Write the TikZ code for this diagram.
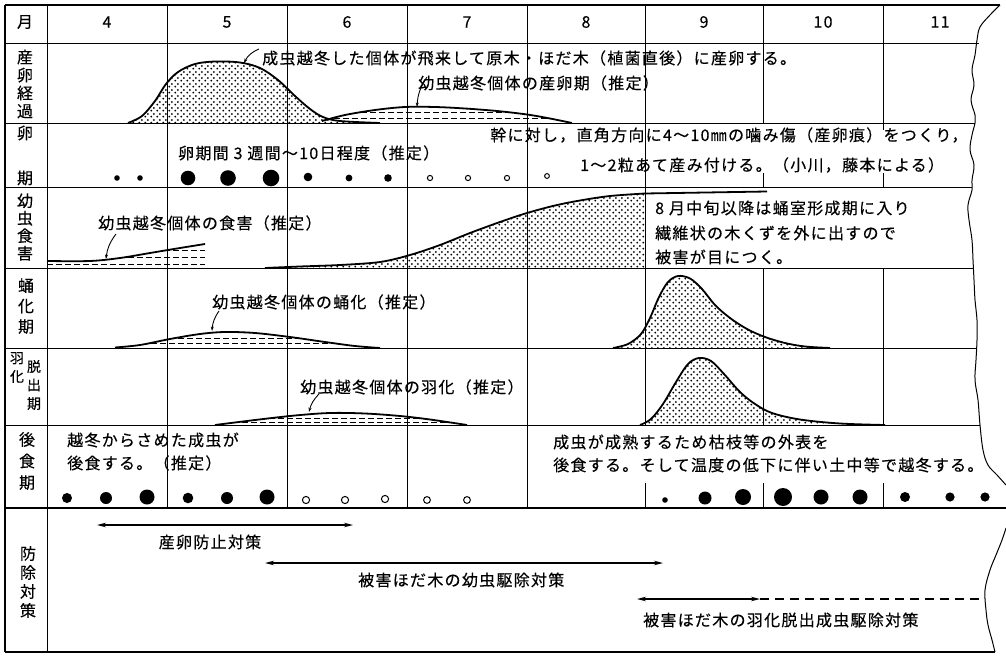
\documentclass[tikz,border=0pt]{standalone}
\usepackage{fontspec}
\setmainfont{Noto Sans CJK JP}[LetterSpace=8, FakeBold=0.3]
\usetikzlibrary{patterns.meta,arrows.meta}
\tikzdeclarepattern{
  name=stipple,
  type=uncolored,
  bounding box={(0pt,0pt) and (6pt,6pt)},
  tile size={(6pt,6pt)},
  code={
    \pgfpathcircle{\pgfpoint{1.5pt}{1.5pt}}{1.15pt}
    \pgfpathcircle{\pgfpoint{4.5pt}{4.5pt}}{1.15pt}
    \pgfusepath{fill}
  }
}
\tikzset{
  gline/.style={line width=0.9pt},
  fline/.style={line width=2.4pt},
  hump/.style={line width=1.8pt},
  edgeline/.style={line width=1pt},
  dashfill/.style={line width=0.8pt, dash pattern=on 6pt off 3pt},
  txt/.style={anchor=west, inner sep=0pt, font=\fontsize{16}{19}\selectfont},
  ctxt/.style={inner sep=0pt, font=\fontsize{16}{19}\selectfont},
  lab/.style={inner sep=0pt, align=center, font=\fontsize{16}{18}\selectfont},
  slab/.style={inner sep=0pt, align=center, font=\fontsize{14}{18.5}\selectfont},
  leader/.style={line width=0.9pt, -{Stealth[length=4.5pt,width=3pt]}},
  twohead/.style={line width=1.3pt, {Stealth[length=9pt,width=4.5pt]}-{Stealth[length=9pt,width=4.5pt]}},
  filldot/.style={fill=black},
  opendot/.style={draw=black, line width=1pt, fill=white},
}
\begin{document}
\begin{tikzpicture}[x=1pt,y=-1pt]
\fill[white] (0,0) rectangle (1006,658);
\useasboundingbox (0,0) rectangle (1006,658);

% ---------- stippled areas ----------
\fill[pattern=stipple] plot[smooth,tension=0.55] coordinates {(128,123) (142,116) (155,101) (166,84) (178,72) (195,64) (215,61.5) (240,62.5) (260,68) (278,80) (295,96) (310,109) (323,117) (340,121) (380,123)} -- cycle;
\fill[pattern=stipple] plot[smooth,tension=0.55] coordinates {(265,268) (300,266.5) (340,265) (380,262) (410,255) (440,245) (470,233) (500,222) (527,213) (555,205.5) (580,200.5) (610,196) (645,193.5)} -- (645,268) -- cycle;
\fill[pattern=stipple] plot[smooth,tension=0.55] coordinates {(613,348) (628,344) (641,334) (650,318) (659,297) (668,282) (678,276) (690,278.5) (702,289) (715,305) (730,318) (747,329) (765,337) (785,343) (805,346.5) (830,348)} -- cycle;
\fill[pattern=stipple] plot[smooth,tension=0.55] coordinates {(640,425) (651,419) (663,404) (676,382) (688,364) (699,358) (711,361) (724,374) (740,392) (755,404) (772,413) (800,419.5) (840,423.5) (885,425)} -- cycle;

% ---------- dashed (estimated) areas ----------
\begin{scope}
\clip plot[smooth,tension=0.55] coordinates {(322,121) (345,115) (375,110) (405,107) (435,107) (465,108.5) (497,111) (527,114.5) (550,118.5) (572,123)} -- cycle;
\draw[dashfill] (325,112) -- (575,112) (325,118) -- (575,118);
\end{scope}
\begin{scope}
\clip plot[smooth,tension=0.55] coordinates {(47,261) (90,261) (120,258) (150,253) (180,248) (205,244)} -- (205,268) -- (47,268) -- cycle;
\draw[dashfill] (47,250.5) -- (205,250.5) (47,257) -- (205,257) (47,264) -- (205,264);
\end{scope}
\begin{scope}
\clip plot[smooth,tension=0.55] coordinates {(115,347.5) (140,345) (170,339) (200,334) (225,332) (255,333) (290,337) (325,342) (355,346) (380,348)} -- cycle;
\draw[dashfill] (115,338.5) -- (380,338.5) (115,343.5) -- (380,343.5);
\end{scope}
\begin{scope}
\clip plot[smooth,tension=0.55] coordinates {(215,425) (255,420) (295,415.5) (330,413) (365,413.5) (400,416) (430,419.5) (467,425)} -- cycle;
\draw[dashfill] (215,418) -- (467,418) (215,422) -- (467,422);
\end{scope}

% ---------- grid ----------
\draw[fline] (5,5) -- (1000,5);
\draw[gline] (5,43) -- (979,43);
\draw[gline] (5,123) -- (975,123);
\draw[gline] (5,187) -- (972,187);
\draw[gline] (5,268) -- (973,268);
\draw[gline] (5,348) -- (977,348);
\draw[gline] (5,425) -- (980,425);
\draw[line width=1.5pt] (5,508) -- (1006,508);
\draw[fline] (5,652) -- (995,652);
\draw[fline] (5,5) -- (5,652);
\draw[gline] (47,5) -- (47,652);
\foreach \x in {167,287,407,527} { \draw[gline] (\x,5) -- (\x,508); }
\draw[gline] (645,5) -- (645,425) (645,483) -- (645,508);
\draw[gline] (763,5) -- (763,123) (763,173) -- (763,187) (763,268) -- (763,425) (763,483) -- (763,508);
\draw[gline] (883,5) -- (883,130) (883,173) -- (883,187) (883,268) -- (883,425) (883,483) -- (883,508);

% wavy torn edge
\draw[edgeline] plot[smooth,tension=0.6] coordinates {(1000,5) (990,15) (980,27) (977,40) (975,55) (972,70) (974,85) (971,100) (975,115) (975,123) (972,135) (970,150) (974,165) (972,180) (972,190) (968,205) (969,220) (972,240) (973,260) (974,280) (975,300) (977,320) (977,340) (976,360) (975,380) (978,400) (980,425) (983,450) (988,465) (997,475) (1006,485)};
\draw[edgeline] plot[smooth,tension=0.6] coordinates {(1006,528) (1002,540) (996,555) (990,570) (985,590) (986,610) (988,625) (992,640) (995,652)};

% ---------- curve outlines ----------
\draw[hump] plot[smooth,tension=0.55] coordinates {(128,123) (142,116) (155,101) (166,84) (178,72) (195,64) (215,61.5) (240,62.5) (260,68) (278,80) (295,96) (310,109) (323,117) (340,121) (380,123)};
\draw[hump] plot[smooth,tension=0.55] coordinates {(322,121) (345,115) (375,110) (405,107) (435,107) (465,108.5) (497,111) (527,114.5) (550,118.5) (572,123)};
\draw[hump] plot[smooth,tension=0.55] coordinates {(47,261) (90,261) (120,258) (150,253) (180,248) (205,244)};
\draw[hump] plot[smooth,tension=0.55] coordinates {(265,268) (300,266.5) (340,265) (380,262) (410,255) (440,245) (470,233) (500,222) (527,213) (555,205.5) (580,200.5) (610,196) (645,193.5)} -- (767,191.5);
\draw[hump] plot[smooth,tension=0.55] coordinates {(115,347.5) (140,345) (170,339) (200,334) (225,332) (255,333) (290,337) (325,342) (355,346) (380,348)};
\draw[hump] plot[smooth,tension=0.55] coordinates {(613,348) (628,344) (641,334) (650,318) (659,297) (668,282) (678,276) (690,278.5) (702,289) (715,305) (730,318) (747,329) (765,337) (785,343) (805,346.5) (830,348)};
\draw[hump] plot[smooth,tension=0.55] coordinates {(215,425) (255,420) (295,415.5) (330,413) (365,413.5) (400,416) (430,419.5) (467,425)};
\draw[hump] plot[smooth,tension=0.55] coordinates {(640,425) (651,419) (663,404) (676,382) (688,364) (699,358) (711,361) (724,374) (740,392) (755,404) (772,413) (800,419.5) (840,423.5) (885,425)};

% ---------- header ----------
\node[lab] (hm) at (25,22) {月};
\node[ctxt] (m4) at (107,22) {4};
\node[ctxt] (m5) at (227,22) {5};
\node[ctxt] (m6) at (347,22) {6};
\node[ctxt] (m7) at (467,22) {7};
\node[ctxt] (m8) at (586,22) {8};
\node[ctxt] (m9) at (704,22) {9};
\node[ctxt] (m10) at (823,22) {10};
\node[ctxt] (m11) at (940,22) {11};

% ---------- row labels ----------
\node[lab] (r1) at (25,84) {産\\卵\\経\\過};
\node[lab] (r2a) at (25,133) {卵};
\node[lab] (r2b) at (25,178) {期};
\node[lab, font=\fontsize{16}{17.5}\selectfont] (r3) at (25,227) {幼\\虫\\食\\害};
\node[lab, font=\fontsize{16}{20.5}\selectfont] (r4) at (26,306) {蛹\\化\\期};
\node[slab] (r5a) at (17,367.5) {羽\\化};
\node[slab] (r5b) at (34,385) {脱\\出\\期};
\node[lab, font=\fontsize{16}{21.5}\selectfont] (r6) at (27,461) {後\\食\\期};
\node[lab, font=\fontsize{16}{19}\selectfont] (r7) at (28,582) {防\\除\\対\\策};

% ---------- texts ----------
\node[txt] (t1) at (262,58) {成虫越冬した個体が飛来して原木・ほだ木（植菌直後）に産卵する。};
\node[txt] (t2) at (418,83) {幼虫越冬個体の産卵期（推定）};
\node[txt] (t3) at (178,153) {卵期間 3 週間～10日程度（推定）};
\node[txt] (t4) at (490,135) {幹に対し，直角方向に4～10㎜の噛み傷（産卵痕）をつくり，};
\node[txt] (t5) at (580,165) {1～2粒あて産み付ける。（小川，藤本による）};
\node[txt] (t6) at (98,223) {幼虫越冬個体の食害（推定）};
\node[txt] (t7) at (655,208) {8 月中旬以降は蛹室形成期に入り};
\node[txt] (t8) at (655,233) {繊維状の木くずを外に出すので};
\node[txt] (t9) at (655,257) {被害が目につく。};
\node[txt] (t10) at (212,302) {幼虫越冬個体の蛹化（推定）};
\node[txt] (t11) at (300,387) {幼虫越冬個体の羽化（推定）};
\node[txt] (t12) at (67,440) {越冬からさめた成虫が};
\node[txt] (t13) at (67,463) {後食する。（推定）};
\node[txt] (t14) at (553,442) {成虫が成熟するため枯枝等の外表を};
\node[txt] (t15) at (553,465) {後食する。そして温度の低下に伴い土中等で越冬する。};
\node[ctxt] (t16) at (210,542) {産卵防止対策};
\node[txt] (t17) at (358,580) {被害ほだ木の幼虫駆除対策};
\node[txt] (t18) at (643,620) {被害ほだ木の羽化脱出成虫駆除対策};

% ---------- leaders ----------
\coordinate (l1s) at (259,49);  \coordinate (l1e) at (244,63);
\coordinate (l2s) at (427,77);  \coordinate (l2e) at (417,107);
\coordinate (l3s) at (116,234); \coordinate (l3e) at (106,259);
\coordinate (l4s) at (219,311); \coordinate (l4e) at (212,331);
\coordinate (l5s) at (319,394); \coordinate (l5e) at (309,412);
\draw[leader] (l1s) to[bend right=20] (l1e);
\draw[leader] (l2s) to[bend right=15] (l2e);
\draw[leader] (l3s) to[bend right=15] (l3e);
\draw[leader] (l4s) to[bend right=15] (l4e);
\draw[leader] (l5s) to[bend right=15] (l5e);

% ---------- egg dots ----------
\fill[filldot] (117,178) circle[radius=2.8pt];
\fill[filldot] (140,178) circle[radius=2.8pt];
\fill[filldot] (188,178) circle[radius=7.3pt];
\fill[filldot] (228,178) circle[radius=7.8pt];
\fill[filldot] (271,178) circle[radius=8.3pt];
\fill[filldot] (308,177) circle[radius=4.3pt];
\fill[filldot] (349,178) circle[radius=3.4pt];
\fill[filldot] (388,178) circle[radius=3.8pt];
\draw[opendot] (430,178) circle[radius=2.6pt];
\draw[opendot] (468,178) circle[radius=2.6pt];
\draw[opendot] (507,178) circle[radius=2.6pt];
\draw[opendot] (547,176) circle[radius=2.4pt];

% ---------- feeding dots ----------
\fill[filldot] (67,498) circle[radius=5pt];
\fill[filldot] (106,498) circle[radius=6pt];
\fill[filldot] (147,497) circle[radius=7.5pt];
\fill[filldot] (188,498) circle[radius=5.3pt];
\fill[filldot] (227,498) circle[radius=6pt];
\fill[filldot] (267,497) circle[radius=7.5pt];
\draw[opendot] (306,500) circle[radius=3.6pt];
\draw[opendot] (345,500) circle[radius=3.6pt];
\draw[opendot] (385,499) circle[radius=3.6pt];
\draw[opendot] (427,500) circle[radius=3.4pt];
\draw[opendot] (467,500) circle[radius=3.4pt];
\fill[filldot] (665,500) circle[radius=2.8pt];
\fill[filldot] (705,498) circle[radius=6.5pt];
\fill[filldot] (743,497) circle[radius=8pt];
\fill[filldot] (783,497) circle[radius=9pt];
\fill[filldot] (821,497) circle[radius=7.5pt];
\fill[filldot] (860,497) circle[radius=7.5pt];
\fill[filldot] (905,497) circle[radius=5pt];
\fill[filldot] (950,497) circle[radius=4.6pt];
\fill[filldot] (985,497) circle[radius=4.6pt];

% ---------- control measures ----------
\coordinate (a1l) at (97,525);  \coordinate (a1r) at (353,525);
\coordinate (a2l) at (265,563); \coordinate (a2r) at (663,563);
\coordinate (a3l) at (637,599); \coordinate (a3m) at (760,599); \coordinate (a3r) at (985,599);
\draw[twohead] (a1l) -- (a1r);
\draw[twohead] (a2l) -- (a2r);
\draw[twohead] (a3l) -- (a3m);
\draw[line width=1.1pt, dash pattern=on 9pt off 6pt] (a3m) -- (a3r);
\end{tikzpicture}
\end{document}
